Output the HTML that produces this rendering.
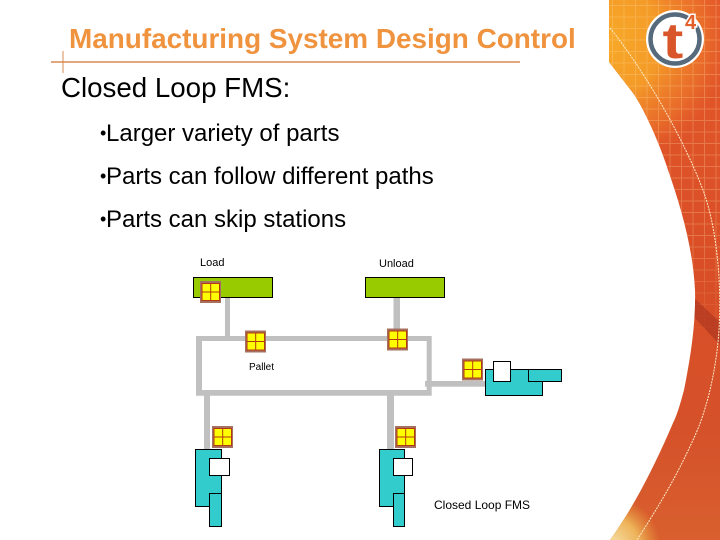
<!DOCTYPE html>
<html>
<head>
<meta charset="utf-8">
<style>
html,body{margin:0;padding:0;background:#fff;width:720px;height:540px;overflow:hidden}
svg{display:block}
text{font-family:"Liberation Sans",sans-serif}
</style>
</head>
<body>
<svg width="720" height="540" viewBox="0 0 720 540" xmlns="http://www.w3.org/2000/svg">
<defs>
<linearGradient id="v" x1="0" y1="0" x2="0" y2="1">
<stop offset="0" stop-color="#e4582a"/>
<stop offset="0.5" stop-color="#d94e26"/>
<stop offset="0.8" stop-color="#d5512a"/>
<stop offset="1" stop-color="#d9602e"/>
</linearGradient>
<radialGradient id="warm" cx="605" cy="40" r="125" gradientUnits="userSpaceOnUse">
<stop offset="0" stop-color="#f8aa28"/>
<stop offset="0.45" stop-color="#f49a28"/>
<stop offset="0.8" stop-color="#ee7a2a" stop-opacity=".6"/>
<stop offset="1" stop-color="#e8622a" stop-opacity="0"/>
</radialGradient>
<radialGradient id="pale" cx="612" cy="545" r="48" gradientUnits="userSpaceOnUse">
<stop offset="0" stop-color="#f6e0a8"/>
<stop offset="0.55" stop-color="#eeb45a"/>
<stop offset="1" stop-color="#e8a040" stop-opacity="0"/>
</radialGradient>
<linearGradient id="fade" gradientUnits="userSpaceOnUse" x1="0" y1="0" x2="0" y2="340">
<stop offset="0" stop-color="#fff"/>
<stop offset="0.7" stop-color="#fff"/>
<stop offset="1" stop-color="#000"/>
</linearGradient>
<mask id="gm"><rect x="600" y="0" width="120" height="340" fill="url(#fade)"/></mask>
<pattern id="grid" width="11.5" height="11.5" patternUnits="userSpaceOnUse" x="612" y="5">
<path d="M0 .5H11.5M.5 0V11.5" stroke="#ffd9a0" stroke-opacity=".28" stroke-width="1" fill="none"/>
</pattern>
<clipPath id="side"><path d="M609 0V62L633 93C645 110 660 145 668 170C682 210 693 250 695 290C696 325 690 360 684 390C680 405 677 415 673 423C655 465 635 505 610 540H720V0Z"/></clipPath>
<g id="pallet">
<rect x="0" y="0" width="21" height="22" fill="#a5705f"/>
<rect x="2" y="2.5" width="17.5" height="17" fill="#ffff00" stroke="#b33a10" stroke-width="1"/>
<path d="M10.7 2.5V19.5M2 11H19.5" stroke="#b33a10" stroke-width="1"/>
</g>
</defs>

<!-- right side decoration -->
<g clip-path="url(#side)">
<rect x="600" y="0" width="120" height="540" fill="url(#v)"/>
<rect x="600" y="0" width="120" height="200" fill="url(#warm)"/>
<rect x="600" y="0" width="120" height="340" fill="url(#grid)" mask="url(#gm)"/>
<path d="M693 297L720 322V345L693 316Z" fill="#a8331f" opacity=".6"/>
<rect x="600" y="490" width="60" height="50" fill="url(#pale)"/>
<path d="M610 28C640 65 680 130 703 190C716 225 722 280 719 330C716 375 705 415 693 440C675 480 655 512 637 540" fill="none" stroke="#ffeccc" stroke-width="1" stroke-dasharray="2 1"/>
</g>

<!-- logo -->
<circle cx="675" cy="39" r="29" fill="#fff"/>
<circle cx="675" cy="39" r="24.5" fill="#fff" stroke="#566a7c" stroke-width="4.5"/>
<text transform="translate(662.5 58) scale(1.25 1)" font-size="50" font-weight="700" fill="#d9562a">t</text>
<text x="685" y="29" font-size="20" font-weight="700" fill="#e4602a" stroke="#fff" stroke-width="3" paint-order="stroke">4</text>

<!-- title -->
<text x="69" y="48" font-size="27.9" font-weight="700" fill="#f0933f">Manufacturing System Design Control</text>
<path d="M51 62H520" stroke="#d98a50" stroke-width="1.6"/>
<path d="M63 51V73" stroke="#d98a50" stroke-width="1"/>

<text x="61" y="97" font-size="27.7" fill="#000">Closed Loop FMS:</text>
<text x="100" y="139" font-size="18" fill="#000">•</text><text x="106" y="141" font-size="24" fill="#000">Larger variety of parts</text>
<text x="100" y="182" font-size="18" fill="#000">•</text><text x="106" y="184" font-size="24" fill="#000">Parts can follow different paths</text>
<text x="100" y="225" font-size="18" fill="#000">•</text><text x="106" y="227" font-size="24" fill="#000">Parts can skip stations</text>

<!-- conveyors -->
<g fill="#c0c0c0">
<rect x="225" y="297" width="5" height="40"/>
<rect x="393.5" y="297" width="6.5" height="40"/>
<path fill-rule="evenodd" d="M196 336H431.7V395.7H196ZM202 341V390H426.7V341Z"/>
<rect x="425" y="381" width="61" height="5.7"/>
<rect x="204" y="395" width="6" height="55"/>
<rect x="387" y="395" width="7" height="55"/>
</g>

<!-- load stations -->
<g fill="#99cc00" stroke="#000" stroke-width="1">
<rect x="193.5" y="277.5" width="79" height="20"/>
<rect x="365.5" y="277.5" width="79" height="20"/>
</g>

<!-- machines -->
<g fill="#33cccc" stroke="#000" stroke-width="1">
<rect x="485.5" y="369.5" width="57" height="26"/>
<rect x="528.5" y="369.5" width="33" height="12"/>
<rect x="195.5" y="449.5" width="26" height="57"/>
<rect x="209.5" y="493.5" width="12" height="33"/>
<rect x="379.5" y="449.5" width="25" height="57"/>
<rect x="393.5" y="493.5" width="11" height="33"/>
</g>
<g fill="#fff" stroke="#000" stroke-width="1">
<rect x="493.5" y="361.5" width="17" height="20"/>
<rect x="209.5" y="458.5" width="20" height="17"/>
<rect x="393.5" y="458.5" width="19" height="17"/>
</g>

<!-- pallets -->
<use href="#pallet" x="200" y="281"/>
<use href="#pallet" x="245" y="330.5"/>
<use href="#pallet" x="387" y="328.5"/>
<use href="#pallet" x="462" y="358.5"/>
<use href="#pallet" x="212" y="426"/>
<use href="#pallet" x="395" y="426"/>

<!-- labels -->
<text x="200" y="266" font-size="11" fill="#000">Load</text>
<text x="379" y="267" font-size="11" fill="#000">Unload</text>
<text x="249" y="370" font-size="10" fill="#000">Pallet</text>
<text x="434" y="509" font-size="12" fill="#000">Closed Loop FMS</text>
</svg>
</body>
</html>
